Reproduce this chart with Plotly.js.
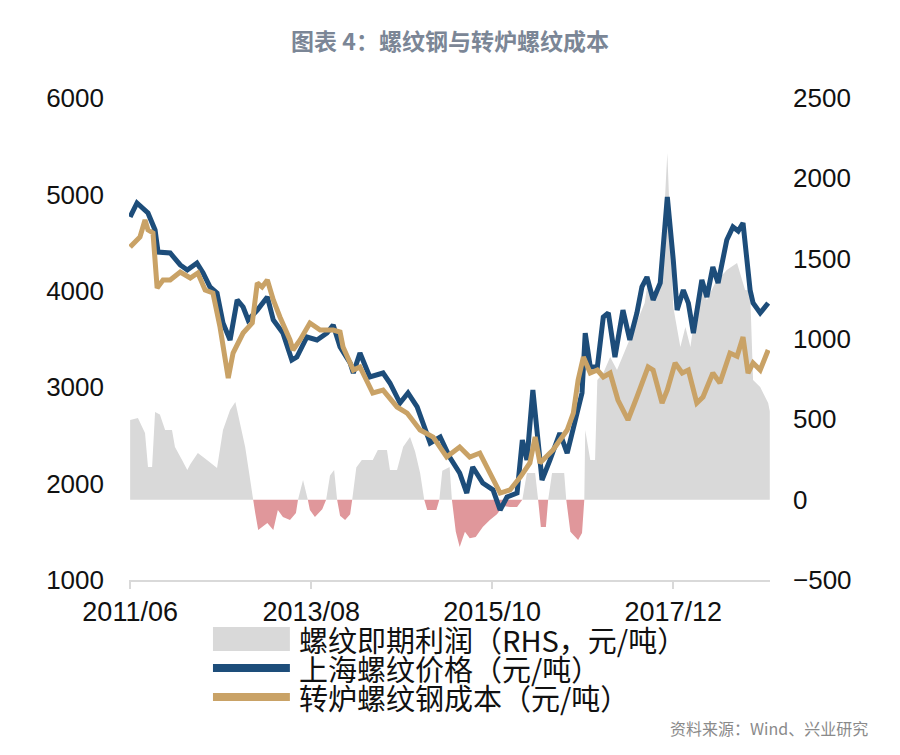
<!DOCTYPE html>
<html>
<head>
<meta charset="utf-8">
<script src="https://cdn.plot.ly/plotly-3.0.1.min.js"></script>
<style>html,body{margin:0;padding:0;background:#fff;}#chart{width:900px;height:755px;}</style>
</head>
<body>
<div id="chart"></div>
<script>
// 上海螺纹价格（元/吨）
const priceDates = ['2011-06-01','2011-07-01','2011-08-18','2011-09-18','2011-10-01','2011-11-23','2012-01-06','2012-02-06','2012-03-19','2012-04-15','2012-05-15','2012-06-15','2012-07-11','2012-08-11','2012-09-11','2012-10-07','2012-10-29','2012-12-08','2013-01-21','2013-02-16','2013-03-30','2013-05-08','2013-05-30','2013-07-13','2013-08-26','2013-10-09','2013-11-05','2013-12-05','2014-01-18','2014-02-01','2014-03-02','2014-04-14','2014-06-11','2014-07-11','2014-08-24','2014-09-28','2014-11-07','2014-12-03','2015-01-03','2015-02-16','2015-03-29','2015-05-12','2015-06-12','2015-07-08','2015-08-21','2015-10-05','2015-11-05','2015-12-05','2016-01-18','2016-02-10','2016-03-01','2016-03-27','2016-04-14','2016-05-06','2016-06-10','2016-07-23','2016-08-24','2016-09-28','2016-10-28','2016-11-11','2016-12-03','2017-01-03','2017-01-29','2017-02-20','2017-03-21','2017-04-25','2017-05-25','2017-06-25','2017-07-17','2017-08-08','2017-09-04','2017-10-05','2017-11-05','2017-12-01','2017-12-18','2018-01-14','2018-02-05','2018-02-27','2018-04-05','2018-04-27','2018-05-23','2018-06-15','2018-07-23','2018-08-19','2018-09-11','2018-10-02','2018-11-02','2018-11-15','2018-12-16','2019-01-20'];
const priceVals = [4766,4911,4807,4631,4402,4392,4268,4216,4288,4185,4040,3977,3666,3490,3905,3832,3697,3800,3936,3697,3562,3282,3313,3521,3490,3562,3645,3417,3251,3147,3354,3106,3147,3044,2836,2940,2795,2629,2421,2483,2276,2110,1902,2172,2006,1934,1726,1861,1902,2452,2245,2971,2525,2037,2245,2525,2317,2629,2940,3562,3210,3210,3728,3770,3313,3800,3490,3770,4040,4143,3905,4081,4973,4320,3800,4008,3873,3562,4112,3936,4247,4081,4527,4662,4620,4703,4008,3873,3770,3873];

// 转炉螺纹钢成本（元/吨）
const costDates = ['2011-06-01','2011-07-14','2011-08-05','2011-08-18','2011-09-09','2011-09-27','2011-10-23','2011-11-23','2012-01-06','2012-02-19','2012-03-23','2012-04-24','2012-05-28','2012-06-28','2012-08-03','2012-08-24','2012-10-07','2012-11-16','2012-12-08','2012-12-29','2013-01-21','2013-02-16','2013-03-17','2013-04-30','2013-05-13','2013-06-13','2013-07-26','2013-09-09','2013-11-05','2013-12-05','2013-12-18','2014-02-01','2014-03-02','2014-04-27','2014-06-11','2014-08-11','2014-09-24','2014-11-20','2015-01-16','2015-03-16','2015-05-12','2015-06-25','2015-08-08','2015-09-21','2015-11-05','2015-12-18','2016-02-01','2016-03-14','2016-04-06','2016-04-27','2016-06-23','2016-08-24','2016-09-20','2016-10-11','2016-11-03','2016-12-03','2017-01-03','2017-01-29','2017-02-28','2017-04-03','2017-05-17','2017-06-25','2017-08-13','2017-09-04','2017-10-13','2017-11-05','2017-12-09','2018-01-09','2018-02-05','2018-03-14','2018-04-10','2018-05-23','2018-06-23','2018-08-06','2018-09-06','2018-10-02','2018-10-24','2018-11-15','2018-12-16','2019-01-20'];
const costVals = [4454,4558,4734,4631,4600,4029,4112,4112,4195,4133,4185,4008,3977,3624,3095,3354,3562,3666,4081,4040,4112,3905,3728,3490,3386,3490,3666,3593,3593,3572,3417,3178,3210,2940,2970,2795,2732,2556,2483,2276,2380,2276,2317,2110,1902,1934,2068,2214,2483,2214,2349,2556,2732,3075,3313,3147,3178,3106,3147,2867,2660,2898,3210,3178,2836,2971,3251,3147,3178,2836,2898,3147,3044,3354,3320,3521,3147,3251,3178,3386];

// 螺纹即期利润（RHS，元/吨）
const profitDates = ['2011-06-01','2011-07-05','2011-08-05','2011-08-18','2011-09-05','2011-09-18','2011-10-09','2011-11-01','2011-12-01','2011-12-14','2012-01-14','2012-02-06','2012-02-19','2012-03-23','2012-05-02','2012-06-15','2012-07-11','2012-08-11','2012-09-03','2012-09-24','2012-10-16','2012-11-07','2012-11-20','2012-11-29','2012-12-12','2013-01-21','2013-02-16','2013-03-08','2013-03-30','2013-04-30','2013-05-26','2013-06-04','2013-06-26','2013-07-13','2013-07-17','2013-07-26','2013-08-17','2013-09-18','2013-10-05','2013-10-22','2013-11-09','2013-11-22','2013-12-05','2013-12-27','2014-01-18','2014-01-27','2014-02-14','2014-03-10','2014-04-27','2014-05-19','2014-06-28','2014-07-11','2014-08-11','2014-09-07','2014-10-07','2014-10-29','2014-11-20','2014-12-08','2014-12-21','2015-01-30','2015-02-12','2015-02-25','2015-03-29','2015-04-08','2015-04-25','2015-05-12','2015-06-04','2015-06-25','2015-07-21','2015-08-21','2015-09-21','2015-10-22','2015-11-18','2015-12-18','2016-01-18','2016-02-10','2016-03-01','2016-04-06','2016-04-19','2016-05-01','2016-05-23','2016-06-02','2016-06-19','2016-08-11','2016-08-20','2016-09-07','2016-10-11','2016-10-28','2016-11-07','2016-11-11','2016-12-03','2016-12-24','2017-01-03','2017-01-29','2017-02-28','2017-03-30','2017-05-25','2017-07-29','2017-08-13','2017-09-04','2017-10-05','2017-11-05','2017-12-01','2018-01-01','2018-01-23','2018-02-14','2018-03-27','2018-04-27','2018-06-02','2018-07-23','2018-09-06','2018-10-11','2018-11-02','2018-11-15','2018-12-16','2019-01-20','2019-01-27'];
const profitVals = [496,508,415,203,203,545,530,433,433,328,247,185,220,290,247,197,433,558,608,477,328,122,0,-83,-189,-145,-189,-64,-108,-127,-83,0,122,16,0,-64,-108,-60,0,150,185,0,-100,-127,-90,0,200,247,247,309,309,185,185,330,390,300,166,0,-64,-64,0,180,203,0,-200,-295,-200,-240,-232,-170,-127,-90,-40,-46,-46,0,166,166,0,-170,-170,0,166,166,0,-200,-251,-208,0,433,247,247,745,788,888,807,1000,1224,1367,1242,1305,2157,1199,950,1074,950,1367,1242,1348,1429,1473,1305,1300,745,701,601,550];

const tickVals = ['2011-06-01','2013-08-01','2015-10-01','2017-12-01'];
const tickText = ['2011/06','2013/08','2015/10','2017/12'];

const seriesNames = ['螺纹即期利润（RHS，元/吨）','上海螺纹价格（元/吨）','转炉螺纹钢成本（元/吨）'];
const colors = {profit:'#d9d9d9', loss:'#e0979b', price:'#1d4d7a', cost:'#c9a266'};

const profitPos = profitVals.map(v => Math.max(v, 0));
const profitNeg = profitVals.map(v => Math.min(v, 0));

const traces = [
  {x: profitDates, y: profitPos, type:'scatter', mode:'lines', fill:'tozeroy', fillcolor: colors.profit,
   line:{width:0, color: colors.profit}, yaxis:'y', name: seriesNames[0], showlegend:false, hoverinfo:'skip'},
  {x: profitDates, y: profitNeg, type:'scatter', mode:'lines', fill:'tozeroy', fillcolor: colors.loss,
   line:{width:0, color: colors.loss}, yaxis:'y', name: seriesNames[0] + ' ', showlegend:false, hoverinfo:'skip'},
  {x: priceDates, y: priceVals, type:'scatter', mode:'lines', line:{width:5, color: colors.price},
   yaxis:'y2', name: seriesNames[1], showlegend:false},
  {x: costDates, y: costVals, type:'scatter', mode:'lines', line:{width:5, color: colors.cost},
   yaxis:'y2', name: seriesNames[2], showlegend:false}
];

const tickFont = {family:'"Liberation Sans", Arial, sans-serif', size:26, color:'#111'};
const cjk = '"Noto Sans CJK SC", "Noto Sans", sans-serif';

// paper-coordinate helpers for the hand-drawn legend
const legendRows = [-0.1224, -0.1826, -0.2427];
const legX0 = 0.131, legX1 = 0.251, legTextX = 0.262;

const layout = {
  width: 900, height: 755,
  margin: {l:129, r:130, t:98, b:175},
  paper_bgcolor:'#ffffff', plot_bgcolor:'#ffffff',
  showlegend:false,
  title: {text:'图表 4：螺纹钢与转炉螺纹成本', x:0.5, xref:'container', xanchor:'center',
          y: 1 - 42/755, yref:'container', yanchor:'middle',
          font:{family:cjk, size:23, color:'#7b8696', weight:600}},
  xaxis: {type:'date', range:['2011-05-27','2019-01-28'], showgrid:false, zeroline:false,
          showline:true, linecolor:'#d9d9d9', linewidth:2,
          ticks:'outside', ticklen:7, tickwidth:2, tickcolor:'#d9d9d9',
          tickvals: tickVals, ticktext: tickText, tickfont:{...tickFont, size:27}},
  yaxis: {range:[-500,2500], dtick:500, tick0:0, side:'right', showgrid:false, zeroline:false,
          showline:false, ticks:'', ticklabelstandoff:22, tickfont: tickFont},
  yaxis2: {range:[1000,6000], dtick:1000, tick0:0, side:'left', overlaying:'y', showgrid:false,
           zeroline:false, showline:false, ticks:'', ticklabelstandoff:24, tickfont: tickFont},
  shapes: [
    {type:'rect', xref:'paper', yref:'paper', x0:legX0, x1:legX1, y0:legendRows[0]-0.0249, y1:legendRows[0]+0.0249,
     fillcolor: colors.profit, line:{width:0}},
    {type:'line', xref:'paper', yref:'paper', x0:legX0, x1:legX1, y0:legendRows[1], y1:legendRows[1],
     line:{color: colors.price, width:8}},
    {type:'line', xref:'paper', yref:'paper', x0:legX0, x1:legX1, y0:legendRows[2], y1:legendRows[2],
     line:{color: colors.cost, width:8}}
  ],
  annotations: [
    ...seriesNames.map((t, i) => ({text:t, xref:'paper', yref:'paper', x:legTextX, y:legendRows[i],
      xanchor:'left', yanchor:'middle', showarrow:false, font:{family:cjk, size:29, color:'#111'}})),
    {text:'资料来源：Wind、兴业研究', xref:'paper', yref:'paper', x:1.156, y:-0.307, xanchor:'right',
     yanchor:'middle', showarrow:false, font:{family:cjk, size:16, color:'#8a8a8a'}}
  ]
};

Plotly.newPlot('chart', traces, layout, {displayModeBar:false, staticPlot:true});
</script>
</body>
</html>
